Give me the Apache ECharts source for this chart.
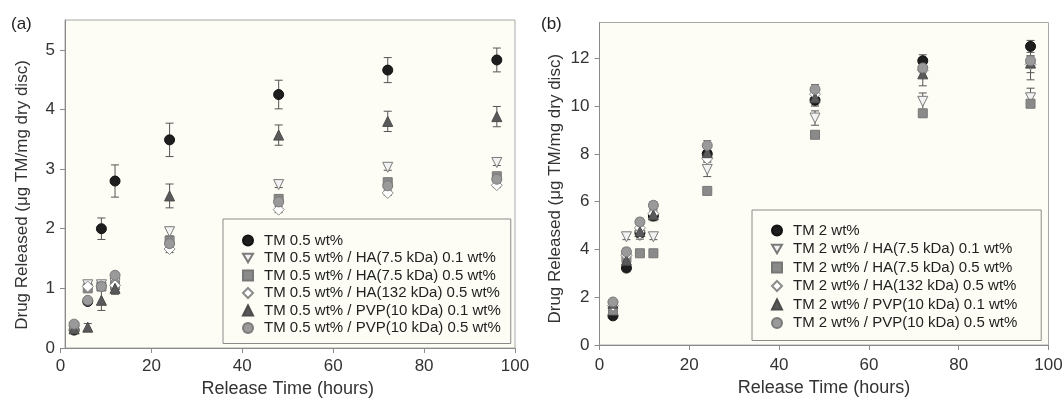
<!DOCTYPE html>
<html>
<head>
<meta charset="utf-8">
<script src="https://cdn.jsdelivr.net/npm/echarts@6/dist/echarts.min.js"></script>
<style>
html, body { margin: 0; padding: 0; background: #ffffff; }
#chart { width: 1064px; height: 400px; }
</style>
</head>
<body>
<div id="chart"></div>
<script>
// Sampling times (hours) shared by both panels
const times = [3, 6, 9, 12, 24, 48, 72, 96];
const xTicks = [0, 20, 40, 60, 80, 100];
const yTicksA = [0, 1, 2, 3, 4, 5];
const yTicksB = [0, 2, 4, 6, 8, 10, 12];

// Panel (a): TM 0.5 wt% discs
const namesA = [
  'TM 0.5 wt%',
  'TM 0.5 wt% / HA(7.5 kDa) 0.1 wt%',
  'TM 0.5 wt% / HA(7.5 kDa) 0.5 wt%',
  'TM 0.5 wt% / HA(132 kDa) 0.5 wt%',
  'TM 0.5 wt% / PVP(10 kDa) 0.1 wt%',
  'TM 0.5 wt% / PVP(10 kDa) 0.5 wt%'
];
const a_tm       = [0.30, 0.78, 2.00, 2.80, 3.49, 4.25, 4.66, 4.83];
const a_tm_err   = [0.03, 0.04, 0.18, 0.27, 0.28, 0.24, 0.21, 0.20];
const a_ha75_01  = [0.34, 1.06, 1.06, 1.08, 1.95, 2.74, 3.03, 3.11];
const a_ha75_01e = [0.03, 0.07, 0.06, 0.06, 0.07, 0.05, 0.05, 0.05];
const a_ha75_05  = [0.33, 1.00, 1.03, 1.05, 1.80, 2.50, 2.78, 2.88];
const a_ha75_05e = [0.03, 0.05, 0.05, 0.12, 0.07, 0.06, 0.05, 0.05];
const a_ha132    = [0.37, 1.03, 1.04, 1.05, 1.66, 2.32, 2.60, 2.73];
const a_ha132e   = [0.03, 0.05, 0.04, 0.04, 0.06, 0.05, 0.04, 0.04];
const a_pvp01    = [0.32, 0.35, 0.80, 1.00, 2.55, 3.57, 3.80, 3.88];
const a_pvp01e   = [0.03, 0.06, 0.17, 0.10, 0.20, 0.17, 0.17, 0.17];
const a_pvp05    = [0.40, 0.80, 1.03, 1.22, 1.75, 2.45, 2.72, 2.83];
const a_pvp05e   = [0.03, 0.04, 0.05, 0.05, 0.06, 0.05, 0.05, 0.05];

// Panel (b): TM 2 wt% discs
const namesB = [
  'TM 2 wt%',
  'TM 2 wt% / HA(7.5 kDa) 0.1 wt%',
  'TM 2 wt% / HA(7.5 kDa) 0.5 wt%',
  'TM 2 wt% / HA(132 kDa) 0.5 wt%',
  'TM 2 wt% / PVP(10 kDa) 0.1 wt%',
  'TM 2 wt% / PVP(10 kDa) 0.5 wt%'
];
const b_tm       = [1.22, 3.22, 4.70, 5.40, 8.00, 10.25, 11.90, 12.50];
const b_tm_err   = [0.10, 0.15, 0.20, 0.20, 0.30, 0.25, 0.25, 0.25];
const b_ha75_01  = [1.60, 4.53, 4.58, 4.53, 7.35, 9.50, 10.20, 10.35];
const b_ha75_01e = [0.10, 0.12, 0.15, 0.12, 0.30, 0.30, 0.35, 0.40];
const b_ha75_05  = [1.45, 3.65, 3.84, 3.84, 6.45, 8.80, 9.70, 10.10];
const b_ha75_05e = [0.10, 0.10, 0.10, 0.10, 0.10, 0.15, 0.15, 0.15];
const b_ha132    = [1.65, 3.75, 4.90, 5.50, 7.80, 10.50, 11.50, 11.75];
const b_ha132e   = [0.10, 0.15, 0.20, 0.20, 0.30, 0.30, 0.30, 0.35];
const b_pvp01    = [1.75, 3.55, 4.75, 5.45, 8.05, 10.35, 11.35, 11.80];
const b_pvp01e   = [0.10, 0.15, 0.20, 0.20, 0.30, 0.30, 0.50, 0.70];
const b_pvp05    = [1.80, 3.90, 5.15, 5.85, 8.35, 10.70, 11.60, 11.90];
const b_pvp05e   = [0.10, 0.15, 0.15, 0.15, 0.20, 0.20, 0.20, 0.20];

const valuesA = [a_tm, a_ha75_01, a_ha75_05, a_ha132, a_pvp01, a_pvp05];
const errorsA = [a_tm_err, a_ha75_01e, a_ha75_05e, a_ha132e, a_pvp01e, a_pvp05e];
const valuesB = [b_tm, b_ha75_01, b_ha75_05, b_ha132, b_pvp01, b_pvp05];
const errorsB = [b_tm_err, b_ha75_01e, b_ha75_05e, b_ha132e, b_pvp01e, b_pvp05e];

// Legend key for the inverted triangle (points down)
const DOWN_TRIANGLE = 'path://M0,0L20,0L10,17.3Z';

// Marker styles, in series order
const markers = [
  { symbol: 'circle',   size: 10, rotate: 0,   fill: '#1e1e1e', stroke: '#111111', icon: 'circle' },
  { symbol: 'triangle', size: 10, rotate: 180, fill: '#f2f2f2', stroke: '#7a7a7a', icon: DOWN_TRIANGLE },
  { symbol: 'rect',     size: 9,  rotate: 0,   fill: '#8a8a8a', stroke: '#777777', icon: 'rect' },
  { symbol: 'diamond',  size: 11, rotate: 0,   fill: '#ffffff', stroke: '#8c8c8c', icon: 'diamond' },
  { symbol: 'triangle', size: 10, rotate: 0,   fill: '#5a5a5a', stroke: '#4a4a4a', icon: 'triangle' },
  { symbol: 'circle',   size: 10, rotate: 0,   fill: '#9a9a9a', stroke: '#7a7a7a', icon: 'circle' }
];

const FONT = "'Liberation Sans', Arial, sans-serif";
const AXIS_COLOR = '#8a8a8a';
const FRAME_COLOR = '#a8a8a8';
const PLOT_BG = '#fdfdf5';

function errorBarSeries(axisIdx, vals, errs, color) {
  return {
    type: 'custom',
    xAxisIndex: axisIdx,
    yAxisIndex: axisIdx,
    silent: true,
    z: 2,
    data: times.map((t, i) => [t, vals[i] - errs[i], vals[i] + errs[i]]),
    encode: { x: 0, y: [1, 2] },
    renderItem(params, api) {
      const lo = api.coord([api.value(0), api.value(1)]);
      const hi = api.coord([api.value(0), api.value(2)]);
      const w = 4;
      const st = { stroke: color, lineWidth: 1 };
      return {
        type: 'group',
        children: [
          { type: 'line', shape: { x1: lo[0], y1: lo[1], x2: hi[0], y2: hi[1] }, style: st },
          { type: 'line', shape: { x1: lo[0] - w, y1: lo[1], x2: lo[0] + w, y2: lo[1] }, style: st },
          { type: 'line', shape: { x1: hi[0] - w, y1: hi[1], x2: hi[0] + w, y2: hi[1] }, style: st }
        ]
      };
    }
  };
}

function pointSeries(axisIdx, name, vals, m, z) {
  return {
    type: 'scatter',
    name: name,
    xAxisIndex: axisIdx,
    yAxisIndex: axisIdx,
    symbol: m.symbol,
    symbolSize: m.size,
    symbolRotate: m.rotate,
    z: z,
    itemStyle: { color: m.fill, borderColor: m.stroke, borderWidth: 1, opacity: 1 },
    data: times.map((t, i) => [t, vals[i]])
  };
}

const series = [];
[[1, namesA, valuesA, errorsA], [3, namesB, valuesB, errorsB]].forEach(([ax, names, vals, errs]) => {
  names.forEach((n, k) => {
    series.push(errorBarSeries(ax, vals[k], errs[k], '#555555'));
    series.push(pointSeries(ax, n, vals[k], markers[k], 3));
  });
});

function valueAxisX(gridIndex, show, nameGap, labelMargin) {
  return {
    type: 'value', gridIndex: gridIndex, show: show,
    min: 0, max: 100, interval: 20,
    name: 'Release Time (hours)', nameLocation: 'middle', nameGap: nameGap,
    nameTextStyle: { fontFamily: FONT, fontSize: 18, color: '#333' },
    axisLine: { show: true, lineStyle: { color: AXIS_COLOR, width: 1 } },
    axisTick: { show: true, inside: false, length: 5, lineStyle: { color: AXIS_COLOR }, customValues: xTicks },
    axisLabel: { fontFamily: FONT, fontSize: 17, color: '#333', margin: labelMargin, customValues: xTicks },
    splitLine: { show: false }
  };
}

function valueAxisY(gridIndex, show, max, ticks, offset, nameGap, namePad) {
  return {
    type: 'value', gridIndex: gridIndex, show: show,
    min: 0, max: max, offset: offset,
    name: 'Drug Released (\u03bcg TM/mg dry disc)', nameLocation: 'middle', nameGap: nameGap,
    nameTextStyle: { fontFamily: FONT, fontSize: 17, color: '#333', padding: namePad },
    axisLine: { show: true, lineStyle: { color: AXIS_COLOR, width: 1 } },
    axisTick: { show: true, inside: false, length: 5, lineStyle: { color: AXIS_COLOR }, customValues: ticks },
    axisLabel: { fontFamily: FONT, fontSize: 17, color: '#333', margin: 10, customValues: ticks },
    splitLine: { show: false }
  };
}

function hiddenAxis(gridIndex) {
  return { type: 'value', gridIndex: gridIndex, show: false, min: 0, max: 1 };
}

function legendFor(names, left, top, padding, gap) {
  return {
    data: names.map((n, k) => ({ name: n, icon: markers[k].icon })),
    orient: 'vertical',
    left: left, top: top,
    padding: padding,
    itemWidth: 10, itemHeight: 10, itemGap: gap,
    symbolKeepAspect: true,
    selectedMode: false,
    borderColor: '#8a8a8a', borderWidth: 1,
    backgroundColor: '#fdfdf5',
    textStyle: { fontFamily: FONT, fontSize: 15, color: '#222', padding: [0, 0, 0, 6] }
  };
}

const chart = echarts.init(document.getElementById('chart'), null, { renderer: 'canvas' });
chart.setOption({
  animation: false,
  backgroundColor: '#ffffff',
  title: [
    { text: '(a)', left: 11, top: 16, padding: 0, textStyle: { fontFamily: FONT, fontSize: 17, fontWeight: 'normal', color: '#222' } },
    { text: '(b)', left: 541, top: 16, padding: 0, textStyle: { fontFamily: FONT, fontSize: 17, fontWeight: 'normal', color: '#222' } }
  ],
  grid: [
    { left: 65, top: 20, width: 450, height: 328, show: true, backgroundColor: PLOT_BG, borderColor: FRAME_COLOR, borderWidth: 1, outerBoundsMode: 'none' },
    { left: 60.5, top: 20, width: 454.5, height: 328, outerBoundsMode: 'none' },
    { left: 599.5, top: 22.5, width: 449, height: 322.5, show: true, backgroundColor: PLOT_BG, borderColor: FRAME_COLOR, borderWidth: 1, outerBoundsMode: 'none' },
    { left: 599.5, top: 22.5, width: 449, height: 322.5, outerBoundsMode: 'none' }
  ],
  xAxis: [
    hiddenAxis(0),
    valueAxisX(1, true, 30, 10),
    hiddenAxis(2),
    valueAxisX(3, true, 33, 12)
  ],
  yAxis: [
    hiddenAxis(0),
    valueAxisY(1, true, 5.5, yTicksA, -4.5, 34, [0, 22, 0, 0]),
    hiddenAxis(2),
    valueAxisY(3, true, 13.5, yTicksB, 0, 36, [0, 10, 0, 0])
  ],
  legend: [
    legendFor(namesA, 223, 219, [14, 10, 8, 19], 2.5),
    legendFor(namesB, 752, 210, [13, 24, 10, 19], 3.5)
  ],
  series: series
});
</script>
</body>
</html>
